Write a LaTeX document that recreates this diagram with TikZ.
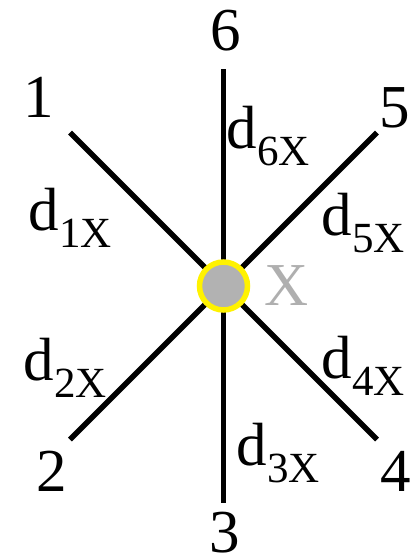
\documentclass[tikz,border=0pt]{standalone}
\usepackage{fontspec}
\setmainfont{Liberation Serif}
\definecolor{dotgray}{RGB}{178,178,178}
\definecolor{xgray}{RGB}{175,175,175}
\newcommand{\dlab}[1]{d\raisebox{-17pt}{\fontsize{43}{43}\selectfont #1X}}
\begin{document}
\begin{tikzpicture}[x=1pt,y=-1pt,
  big/.style={font=\fontsize{61}{61}\selectfont, inner sep=0pt, text=black},
  num/.style={big, anchor=base},
  dist/.style={big, anchor=base west},
  spoke/.style={line width=5.5pt, black}]
\useasboundingbox (0,0) rectangle (419,558);
\coordinate (c) at (223.5,286);
\coordinate (e1) at (70,132.5);
\coordinate (e2) at (70,439.5);
\coordinate (e3) at (223.5,503);
\coordinate (e4) at (377,439.5);
\coordinate (e5) at (377,132.5);
\coordinate (e6) at (223.5,69);
\foreach \e in {e1,e2,e3,e4,e5,e6} \draw[spoke] (c) -- (\e);
\node[circle, draw=yellow, fill=dotgray, line width=5.5pt, minimum size=48pt, inner sep=0pt] (dot) at (c) {};
\node[num] (n1) at (39,117) {1};
\node[num] (n2) at (52,491) {2};
\node[num] (n3) at (225,552) {3};
\node[num] (n4) at (396,491) {4};
\node[num] (n5) at (395,127) {5};
\node[num] (n6) at (226,50) {6};
\node[num, text=xgray] (xl) at (286.5,305) {X};
\node[dist] (d6) at (226.5,148) {\dlab{6}};
\node[dist] (d1) at (28.5,230) {\dlab{1}};
\node[dist] (d5) at (321.5,235) {\dlab{5}};
\node[dist] (d2) at (23.5,380) {\dlab{2}};
\node[dist] (d3) at (236.5,465) {\dlab{3}};
\node[dist] (d4) at (321.5,378) {\dlab{4}};
\end{tikzpicture}
\end{document}
